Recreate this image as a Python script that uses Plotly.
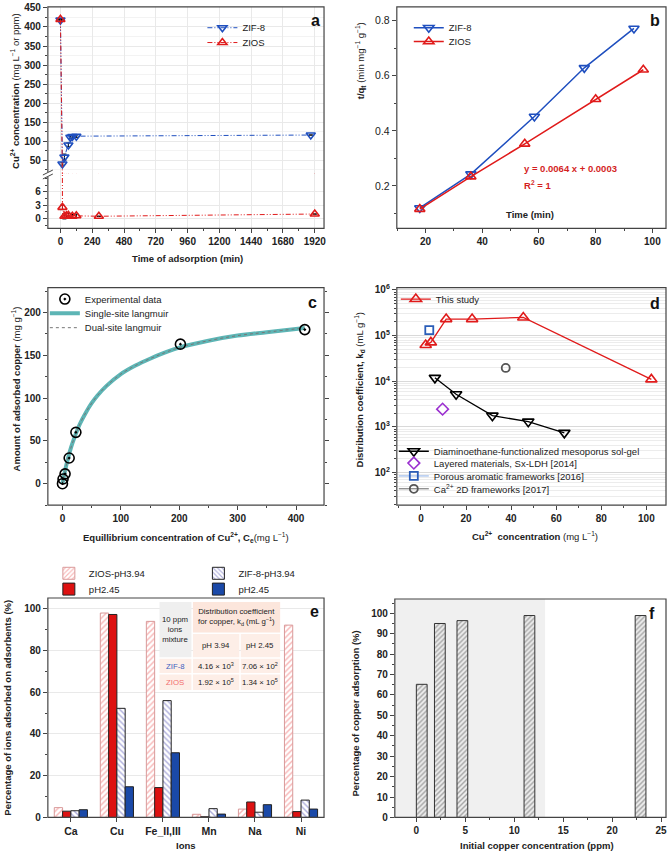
import plotly.graph_objects as go

W, H = 670, 859
def X(p): return p / W
def Y(p): return 1 - p / H

FONT = "Liberation Sans, Arial, sans-serif"
AX = "#444444"
BLUE = "#1f4fbf"
RED = "#e01b1b"

# ---------------- data ----------------
# (a) kinetics
a_time_zif = [0, 15, 30, 60, 75, 90, 120, 1890]
a_conc_zif = [418, 40, 58, 90, 110, 112, 113, 116]
a_err_zif = [0, 3, 8, 5, 4, 4, 3, 0]
a_time_zios = [0, 15, 30, 45, 60, 90, 120, 290, 1920]
a_conc_zios = [420, 2.5, 0.5, 0.6, 0.7, 0.5, 0.6, 0.5, 1.0]
a_err_zios = [0, 0.5, 0.6, 0.6, 0.5, 0.4, 0.4, 0, 0]
a_xticks = [0, 240, 480, 720, 960, 1200, 1440, 1680, 1920]

# (b) pseudo-second-order
b_time_zif = [18, 36, 58.4, 76, 93.5]
b_tq_zif = [0.120, 0.243, 0.452, 0.629, 0.772]
b_time_zios = [18, 36, 55, 80, 96.8]
b_tq_zios = [0.116, 0.234, 0.353, 0.515, 0.622]

# (c) isotherm
c_ce_exp = [0, 1, 4.5, 11.5, 23, 202, 415]
c_q_exp = [0, 5.5, 11.5, 30, 60, 163, 180]
c_ce_fit = [0, 2, 5, 10, 15, 20, 30, 40, 50, 60, 75, 100, 125, 150, 175, 200, 250, 300, 350, 415]
c_q_single = [0, 7, 17, 31, 43, 53, 70, 83, 94, 103, 114, 128, 138, 146, 153, 159, 167, 173, 177, 182]
c_q_dual = [0, 7, 17, 31, 43, 53, 70, 83, 94, 103, 114, 128, 138, 146, 153, 159, 167, 173, 177, 182]

# (d) distribution coefficient
d_this_c = [2.1, 4.4, 11.2, 22.7, 45.4, 102.2]
d_this_kd = [6.25e4, 7.1e4, 2.3e5, 2.3e5, 2.5e5, 1.1e4]
d_dia_c = [6.2, 15.6, 31.7, 47.6, 63.6]
d_dia_kd = [1.19e4, 5.2e3, 1.77e3, 1.31e3, 745]
d_ldh_c = [9.6]
d_ldh_kd = [2.46e3]
d_paf_c = [3.7]
d_paf_kd = [1.32e5]
d_ca_c = [37.6]
d_ca_kd = [1.96e4]

# (e) selectivity
e_ions = ["Ca", "Cu", "Fe_II,III", "Mn", "Na", "Ni"]
e_zios_394 = [4.7, 98.0, 94.0, 1.5, 4.0, 92.2]
e_zios_245 = [3.0, 97.3, 14.3, 0.3, 7.4, 2.8]
e_zif_394 = [3.2, 52.3, 56.0, 4.2, 2.5, 8.3]
e_zif_245 = [3.7, 14.7, 31.0, 1.6, 6.1, 4.0]

# (f) copper adsorption vs initial concentration
f_conc = [0.55, 2.4, 4.7, 11.55, 22.9]
f_pct = [65.2, 95.0, 96.4, 98.9, 98.9]

# ---------------- figure ----------------
fig = go.Figure()
DASHDOT = "5px,2px,1px,2px,1px,2px"
legends = {}

def leg(name, x, y):
    legends[name] = dict(x=X(x), y=Y(y), xanchor="left", yanchor="middle",
                         bgcolor="rgba(0,0,0,0)", borderwidth=0,
                         font=dict(family=FONT, size=9.5, color="#222"),
                         tracegroupgap=0, itemwidth=30)
    return name

# (a)
L1 = leg("legend", 203, 24)
L2 = leg("legend2", 203, 39)
for yax, show in (("y", True), ("y2", False)):
    fig.add_trace(go.Scatter(
        x=a_time_zif, y=a_conc_zif, name="ZIF-8", mode="lines+markers",
        xaxis="x", yaxis=yax, legend=L1, showlegend=show,
        line=dict(color=BLUE, width=1, dash=DASHDOT),
        marker=dict(symbol="triangle-down-open", size=8, color=BLUE, line=dict(width=1.6)),
        error_y=dict(type="data", array=a_err_zif, color="black", thickness=1, width=2)))
    fig.add_trace(go.Scatter(
        x=a_time_zios, y=a_conc_zios, name="ZIOS", mode="lines+markers",
        xaxis="x", yaxis=yax, legend=L2, showlegend=show,
        line=dict(color=RED, width=1, dash=DASHDOT),
        marker=dict(symbol="triangle-up-open", size=8, color=RED, line=dict(width=1.6)),
        error_y=dict(type="data", array=a_err_zios, color="black", thickness=1, width=2)))

# (b)
fig.add_trace(go.Scatter(x=b_time_zif, y=b_tq_zif, name="ZIF-8", mode="lines+markers",
    xaxis="x2", yaxis="y3", legend=leg("legend3", 410, 24),
    line=dict(color=BLUE, width=1.5),
    marker=dict(symbol="triangle-down-open", size=9, color=BLUE, line=dict(width=1.6))))
fig.add_trace(go.Scatter(x=b_time_zios, y=b_tq_zios, name="ZIOS", mode="lines+markers",
    xaxis="x2", yaxis="y3", legend=leg("legend4", 410, 38),
    line=dict(color=RED, width=1.5),
    marker=dict(symbol="triangle-up-open", size=9, color=RED, line=dict(width=1.6))))

# (c)
fig.add_trace(go.Scatter(x=c_ce_fit, y=c_q_single, name="Single-site langmuir", mode="lines",
    xaxis="x3", yaxis="y4", legend=leg("legend6", 45, 313),
    line=dict(color="#5db5b5", width=4, shape="spline")))
fig.add_trace(go.Scatter(x=c_ce_fit, y=c_q_dual, name="Dual-site langmuir", mode="lines",
    xaxis="x3", yaxis="y4", legend=leg("legend7", 45, 327.5),
    line=dict(color="#777777", width=1, dash="dot", shape="spline")))
fig.add_trace(go.Scatter(x=c_ce_exp, y=c_q_exp, name="Experimental data", mode="markers",
    xaxis="x3", yaxis="y4", legend=leg("legend5", 45, 298.5),
    marker=dict(symbol="circle-open-dot", size=10, color="black", line=dict(width=1.6))))

# (d)
fig.add_trace(go.Scatter(x=d_this_c, y=d_this_kd, name="This study", mode="lines+markers",
    xaxis="x4", yaxis="y5", legend=leg("legend8", 397, 298.5),
    line=dict(color=RED, width=1.3),
    marker=dict(symbol="triangle-up-open", size=10, color=RED, line=dict(width=1.6))))
fig.add_trace(go.Scatter(x=d_dia_c, y=d_dia_kd, name="Diaminoethane-functionalized mesoporus sol-gel",
    mode="lines+markers", xaxis="x4", yaxis="y5", legend=leg("legend9", 395, 452.5),
    line=dict(color="black", width=1.3),
    marker=dict(symbol="triangle-down-open", size=10, color="black", line=dict(width=1.6))))
fig.add_trace(go.Scatter(x=d_ldh_c, y=d_ldh_kd, name="Layered materials, Sx-LDH [2014]",
    mode="markers", xaxis="x4", yaxis="y5", legend=leg("legend10", 395, 464.5),
    marker=dict(symbol="diamond-open", size=9, color="#9b30d0", line=dict(width=1.6))))
fig.add_trace(go.Scatter(x=d_paf_c, y=d_paf_kd, name="Porous aromatic frameworks [2016]",
    mode="lines+markers", xaxis="x4", yaxis="y5", legend=leg("legend11", 395, 477.5),
    line=dict(color="#8aaee6", width=1),
    marker=dict(symbol="square-open", size=8, color="#2a5db8", line=dict(width=1.8))))
fig.add_trace(go.Scatter(x=d_ca_c, y=d_ca_kd, name="Ca<sup>2+</sup> 2D frameworks [2017]",
    mode="lines+markers", xaxis="x4", yaxis="y5", legend=leg("legend12", 395, 490.5),
    line=dict(color="#666666", width=1),
    marker=dict(symbol="circle-open", size=8, color="#555555", line=dict(width=1.8))))

# (e)
fig.add_trace(go.Bar(x=e_ions, y=e_zios_394, name="ZIOS-pH3.94", xaxis="x5", yaxis="y6",
    legend=leg("legend13", 49, 576), offsetgroup="1",
    marker=dict(color="white", line=dict(color="#d99a9a", width=1),
                pattern=dict(shape="/", fgcolor="#f06a6a", bgcolor="white", size=4, solidity=0.35))))
fig.add_trace(go.Bar(x=e_ions, y=e_zios_245, name="pH2.45", xaxis="x5", yaxis="y6",
    legend=leg("legend14", 49, 592), offsetgroup="2",
    marker=dict(color="#dd1111", line=dict(color="#222222", width=1))))
fig.add_trace(go.Bar(x=e_ions, y=e_zif_394, name="ZIF-8-pH3.94", xaxis="x5", yaxis="y6",
    legend=leg("legend15", 199, 576), offsetgroup="3",
    marker=dict(color="white", line=dict(color="#222222", width=1),
                pattern=dict(shape="\\", fgcolor="#5a5ab8", bgcolor="white", size=4, solidity=0.35))))
fig.add_trace(go.Bar(x=e_ions, y=e_zif_245, name="pH2.45", xaxis="x5", yaxis="y6",
    legend=leg("legend16", 199, 592), offsetgroup="4",
    marker=dict(color="#1a49a8", line=dict(color="#222222", width=1))))

# (f)
fig.add_trace(go.Bar(x=f_conc, y=f_pct, width=1.1, xaxis="x6", yaxis="y7", showlegend=False,
    marker=dict(color="#eeeeee", line=dict(color="#333333", width=1),
                pattern=dict(shape="/", fgcolor="#555555", bgcolor="#eeeeee", size=3.5, solidity=0.4))))

# ---------------- axes ----------------
def tf(bold=True, size=10):
    return dict(family=FONT, size=size, color="#222", weight="bold" if bold else "normal")

def ax(domain, rng, anchor, **kw):
    d = dict(domain=domain, range=rng, anchor=anchor, showline=False, zeroline=False,
             showgrid=False, ticks="outside", ticklen=4, tickwidth=1, tickcolor=AX,
             tickfont=tf(), fixedrange=True)
    d.update(kw)
    return d

GRID = "#e9e9e9"
layout = dict(
    width=W, height=H, autosize=False,
    margin=dict(l=0, r=0, t=0, b=0),
    paper_bgcolor="white", plot_bgcolor="rgba(0,0,0,0)",
    font=dict(family=FONT, size=9.5, color="#222"),
    barmode="group", bargap=0.28, bargroupgap=0,
    # (a)
    xaxis=ax([X(48), X(325)], [-95, 1990], "y2", tickvals=a_xticks, showgrid=True, gridcolor=GRID,
             minor=dict(ticks="outside", ticklen=2, tickcolor=AX, dtick=120)),
    yaxis=ax([Y(172), Y(3)], [13.6, 452.6], "x", dtick=50, tick0=0, showgrid=True, gridcolor=GRID,
             minor=dict(ticks="outside", ticklen=2, tickcolor=AX, dtick=25, showgrid=True, gridcolor="#f3f3f3")),
    yaxis2=ax([Y(227), Y(172)], [-2.22, 10], "x", tickvals=[0, 3, 6], showgrid=True, gridcolor=GRID,
              minor=dict(ticks="outside", ticklen=2, tickcolor=AX, dtick=1.5)),
    # (b)
    xaxis2=ax([X(398), X(668)], [9.9, 104.8], "y3", dtick=20, tick0=0,
              minor=dict(ticks="outside", ticklen=2, tickcolor=AX, dtick=10)),
    yaxis3=ax([Y(227), Y(3)], [0.046, 0.85], "x2", dtick=0.2, tick0=0, tickfont=tf(False, 10.5),
              minor=dict(ticks="outside", ticklen=2, tickcolor=AX, dtick=0.1)),
    # (c)
    xaxis3=ax([X(48), X(325)], [-25, 448], "y4", dtick=100, tick0=0,
              minor=dict(ticks="outside", ticklen=2, tickcolor=AX, dtick=50)),
    yaxis4=ax([Y(507), Y(287)], [-25, 229], "x3", dtick=50, tick0=0, mirror="ticks",
              minor=dict(ticks="outside", ticklen=2, tickcolor=AX, dtick=25)),
    # (d)
    xaxis4=ax([X(398), X(668)], [-10.7, 108.7], "y5", dtick=20, tick0=0,
              minor=dict(ticks="outside", ticklen=2, tickcolor=AX, dtick=10)),
    yaxis5=ax([Y(507), Y(287)], [1.29, 6.05], "x4", type="log",
              tickvals=[1e2, 1e3, 1e4, 1e5, 1e6],
              ticktext=["10<sup>2</sup>", "10<sup>3</sup>", "10<sup>4</sup>", "10<sup>5</sup>", "10<sup>6</sup>"],
              showgrid=True, gridcolor="#d9d9d9",
              minor=dict(ticks="outside", ticklen=2, tickcolor=AX, dtick="D1", showgrid=True, gridcolor="#ececec")),
    # (e)
    xaxis5=ax([X(48), X(325)], [-0.5, 5.5], "y6", type="category", tickfont=tf(True, 10.5)),
    yaxis6=ax([Y(823), Y(601)], [0, 105.2], "x5", dtick=20, tick0=0, showgrid=True, gridcolor=GRID,
              minor=dict(ticks="outside", ticklen=2, tickcolor=AX, dtick=10)),
    # (f)
    xaxis6=ax([X(396), X(668)], [-2.2, 25.5], "y7", dtick=5, tick0=0,
              minor=dict(ticks="outside", ticklen=2, tickcolor=AX, dtick=2.5)),
    yaxis7=ax([Y(823), Y(602)], [0, 107], "x6", dtick=10, tick0=0,
              minor=dict(ticks="outside", ticklen=2, tickcolor=AX, dtick=5)),
)
layout.update(legends)
fig.update_layout(**layout)

# ---------------- shapes ----------------
shapes = []
for (x0, y0, x1, y1) in [(48, 3, 325, 227), (398, 3, 668, 227), (48, 287, 325, 507),
                         (398, 287, 668, 507), (48, 601, 325, 823), (396, 602, 668, 823)]:
    shapes.append(dict(type="rect", xref="paper", yref="paper", x0=X(x0), x1=X(x1), y0=Y(y1), y1=Y(y0),
                       line=dict(color=AX, width=1.2), layer="above"))
# break marks on panel a
shapes.append(dict(type="rect", xref="paper", yref="paper", x0=X(45), x1=X(51), y0=Y(175), y1=Y(170),
                   fillcolor="white", line=dict(width=0), layer="above"))
for dy in (-2, 2):
    shapes.append(dict(type="line", xref="paper", yref="paper", x0=X(43), x1=X(53),
                       y0=Y(175 + dy), y1=Y(170 + dy), line=dict(color=AX, width=1), layer="above"))
# shaded region in panel f
shapes.append(dict(type="rect", xref="x6", yref="y7 domain", x0=-2.2, x1=13.15, y0=0, y1=1,
                   fillcolor="#f0f0f0", line=dict(width=0), layer="below"))
# table in panel e
PEACH = "#fdeee7"
PEACH_H = "#fce6dc"
cells = [
    (160, 605, 192, 661, "#efefef"),
    (193.5, 605, 281, 636, PEACH_H),
    (193.5, 637.5, 240, 661, PEACH),
    (241.5, 637.5, 281, 661, PEACH),
    (160, 662.5, 192, 677, PEACH),
    (193.5, 662.5, 240, 677, PEACH),
    (241.5, 662.5, 281, 677, PEACH),
    (160, 678.5, 192, 694, PEACH),
    (193.5, 678.5, 240, 694, PEACH),
    (241.5, 678.5, 281, 694, PEACH),
]
for (x0, y0, x1, y1, c) in cells:
    shapes.append(dict(type="rect", xref="paper", yref="paper", x0=X(x0), x1=X(x1), y0=Y(y1), y1=Y(y0),
                       fillcolor=c, line=dict(width=0), layer="above"))
fig.update_layout(shapes=shapes)

# ---------------- annotations ----------------
ann = []
def A(x, y, text, size=9.5, bold=False, color="#222", angle=0, xanchor="center", align="center"):
    ann.append(dict(x=X(x), y=Y(y), xref="paper", yref="paper", text=text, showarrow=False,
                    textangle=angle, xanchor=xanchor, yanchor="middle", align=align,
                    font=dict(family=FONT, size=size, color=color, weight="bold" if bold else "normal")))

for (x, y, t) in [(316, 17, "a"), (657, 17, "b"), (313, 302, "c"), (657, 303, "d"), (315, 615, "e"), (654, 617, "f")]:
    A(x, y, t, size=16, bold=True, color="#111")

A(15, 88, "<b>Cu<sup>2+</sup> concentration</b> (mg L<sup>−1</sup> or ppm)", size=9.5, angle=-90)
A(188, 257, "Time of adsorption (min)", bold=True)
A(361, 57, "<b>t/q<sub>t</sub></b> (min mg<sup>−1</sup> g<sup>−1</sup>)", size=9.5, angle=-90)
A(532, 213, "Time (min)", bold=True)
A(524, 166, "y = 0.0064 x + 0.0003", bold=True, color="#d41f1f", xanchor="left")
A(524, 183, "R<sup>2</sup> = 1", bold=True, color="#d41f1f", xanchor="left")
A(17, 389, "<b>Amount of adsorbed copper</b> (mg g<sup>−1</sup>)", angle=-90)
A(187, 540, "<b>Equillibrium concentration of Cu<sup>2+</sup>, C<sub>e</sub></b>(mg L<sup>−1</sup>)")
A(361, 390, "<b>Distribution coefficient, k<sub>d</sub></b> (mL g<sup>−1</sup>)", angle=-90)
A(537, 538, "<b>Cu<sup>2+</sup>  concentration</b> (mg L<sup>−1</sup>)")
A(8, 712, "Percentage of ions adsorbed on adsorbents (%)", bold=True, angle=-90)
A(187, 851, "Ions", bold=True)
A(357, 718, "Percentage of copper adsorption (%)", bold=True, angle=-90)
A(539, 851, "Initial copper concentration (ppm)", bold=True)

TS = 7.8
A(176, 633, "10 ppm<br>ions<br>mixture", size=TS)
A(237, 620, "Distribution coefficient<br>for copper, k<sub>d</sub> (mL g<sup>−1</sup>)", size=TS)
A(217, 649, "pH 3.94", size=TS)
A(261, 649, "pH 2.45", size=TS)
A(176, 670, "ZIF-8", size=TS, color="#3d5fc0")
A(217, 670, "4.16 × 10<sup>3</sup>", size=TS)
A(261, 670, "7.06 × 10<sup>2</sup>", size=TS)
A(176, 686, "ZIOS", size=TS, color="#f26d6d")
A(217, 686, "1.92 × 10<sup>5</sup>", size=TS)
A(261, 686, "1.34 × 10<sup>5</sup>", size=TS)

fig.update_layout(annotations=ann)
fig.write_html("out.html", config={"displayModeBar": False},
               post_script="document.body.style.margin='0';document.body.style.overflow='hidden';")
